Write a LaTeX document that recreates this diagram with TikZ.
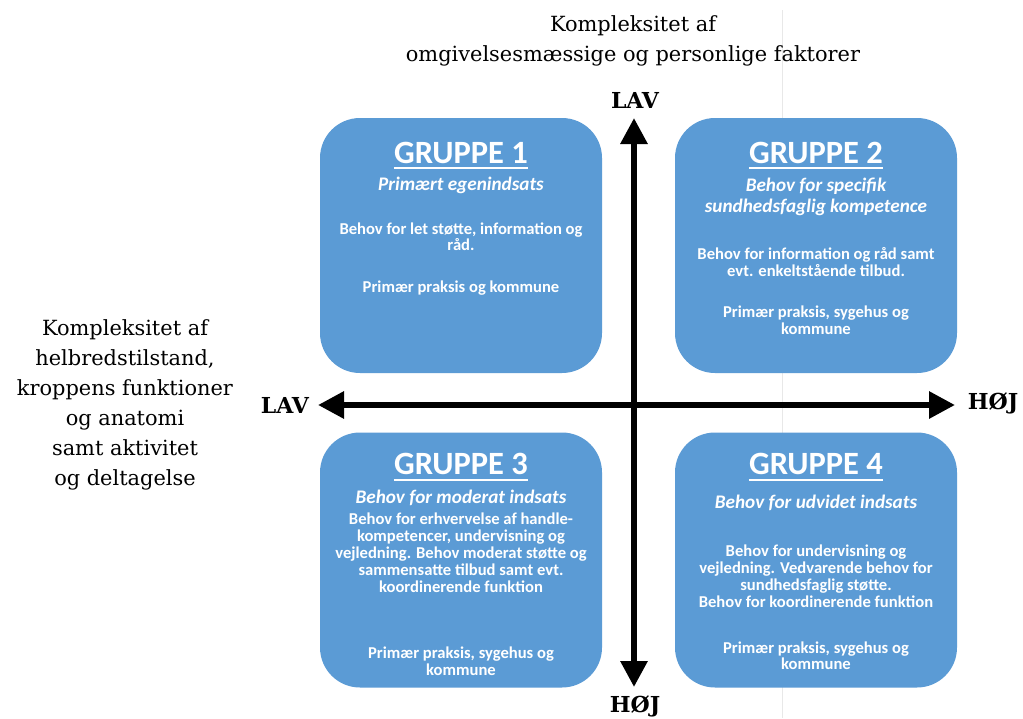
\documentclass[tikz,border=0pt]{standalone}
\usepackage{fontspec}
\setmainfont{DejaVu Serif}
\newfontfamily\gruppefont{Carlito}
\usetikzlibrary{arrows.meta,positioning}
\definecolor{kasseblaa}{HTML}{5B9BD5}
\tikzstyle{gruppe} = [draw=none,fill=kasseblaa,rounded corners=40pt,minimum width=282pt,minimum height=255pt,inner sep=0]
\tikzstyle{titel} = [text=white,inner sep=0,font=\gruppefont\bfseries\fontsize{32.5}{38}\selectfont]
\tikzstyle{undertitel} = [text=white,align=center,inner sep=0,font=\gruppefont\bfseries\itshape\fontsize{19.2}{21.5}\selectfont]
\tikzstyle{tekst} = [text=white,align=center,inner sep=0,font=\gruppefont\bfseries\fontsize{16.6}{16.8}\selectfont]
\tikzstyle{understreg} = [white,line width=2pt]
\tikzstyle{akse} = [line width=6pt,{Triangle[width=26pt,length=26pt]}-{Triangle[width=26pt,length=26pt]}]
\tikzstyle{etiket} = [align=center,inner sep=0,font=\fontsize{20.9}{30}\selectfont]
\tikzstyle{ende} = [inner sep=0,font=\bfseries\fontsize{22}{26}\selectfont]
\def \ul {5pt}

\begin{document}
\begin{tikzpicture}[x=1pt,y=-1pt]
      \fill[white] (0,0) rectangle (1023,718);
      \useasboundingbox (0,0) rectangle (1023,718);
      \draw[gray!18,line width=1pt] (782,10) -- (782,718);

      \node[gruppe] (g1) at (461,245.5) {};
      \node[gruppe] (g2) at (816,245.5) {};
      \node[gruppe] (g3) at (461,560) {};
      \node[gruppe] (g4) at (816,560) {};

      \node[titel] (t1) at ([yshift=-35pt]g1.north) {GRUPPE 1};
      \node[undertitel] (u1) at ([yshift=-68pt]g1.north) {Primært egenindsats};
      \node[tekst] (b1) at ([yshift=-119pt]g1.north) {Behov for let støtte, information og\\råd.};
      \node[tekst] (p1) at ([yshift=-170pt]g1.north) {Primær praksis og kommune};

      \node[titel] (t2) at ([yshift=-35pt]g2.north) {GRUPPE 2};
      \node[undertitel] (u2) at ([yshift=-79pt]g2.north) {Behov for specifik\\sundhedsfaglig kompetence};
      \node[tekst] (b2) at ([yshift=-144pt]g2.north) {Behov for information og råd samt\\evt. enkeltstående tilbud.};
      \node[tekst] (p2) at ([yshift=-202.5pt]g2.north) {Primær praksis, sygehus og\\kommune};

      \node[titel] (t3) at ([yshift=-32pt]g3.north) {GRUPPE 3};
      \node[undertitel] (u3) at ([yshift=-66pt]g3.north) {Behov for moderat indsats};
      \node[tekst] (b3) at ([yshift=-120.5pt]g3.north) {Behov for erhvervelse af handle-\\kompetencer, undervisning og\\vejledning. Behov moderat støtte og\\sammensatte tilbud samt evt.\\koordinerende funktion};
      \node[tekst] (p3) at ([yshift=-229pt]g3.north) {Primær praksis, sygehus og\\kommune};

      \node[titel] (t4) at ([yshift=-32pt]g4.north) {GRUPPE 4};
      \node[undertitel] (u4) at ([yshift=-71pt]g4.north) {Behov for udvidet indsats};
      \node[tekst] (b4) at ([yshift=-144pt]g4.north) {Behov for undervisning og\\vejledning. Vedvarende behov for\\sundhedsfaglig støtte.\\Behov for koordinerende funktion};
      \node[tekst] (p4) at ([yshift=-223.5pt]g4.north) {Primær praksis, sygehus og\\kommune};

      \foreach \t in {t1,t2,t3,t4}
        \draw[understreg] ([yshift=-\ul]\t.base west) -- ([yshift=-\ul]\t.base east);

      \coordinate (ytop) at (634,118);
      \coordinate (ybund) at (634,687);
      \coordinate (xvenstre) at (318,405);
      \coordinate (xhoejre) at (955,405);
      \draw[akse] (ytop) -- (ybund);
      \draw[akse] (xvenstre) -- (xhoejre);

      \node[ende] (lavtop) at (635,100) {LAV};
      \node[ende] (hoejbund) at (635,706) {HØJ};
      \node[ende] (lavvenstre) at (285,405) {LAV};
      \node[ende] (hoejhoejre) at (993,403) {HØJ};

      \node[etiket] (omgivelser) at (633,41) {Kompleksitet af\\omgivelsesmæssige og personlige faktorer};
      \node[etiket] (helbred) at (125,405) {Kompleksitet af\\helbredstilstand,\\kroppens funktioner\\og anatomi\\samt aktivitet\\og deltagelse};
    \end{tikzpicture}
\end{document}
